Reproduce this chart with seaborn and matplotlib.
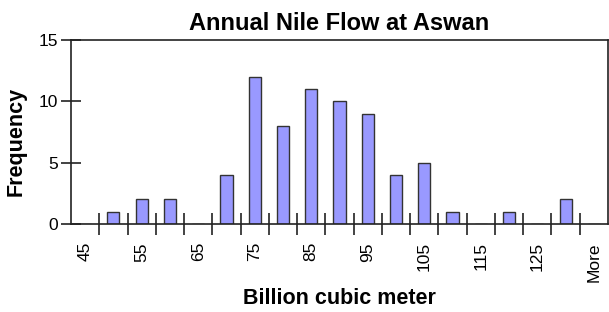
import numpy as np
import pandas as pd
import matplotlib
matplotlib.use("Agg")
import matplotlib.pyplot as plt
from matplotlib.ticker import FixedLocator
import seaborn as sns

# histogram of annual Nile flow (bins in billion cubic meter)
bins = ["45", "50", "55", "60", "65", "70", "75", "80", "85", "90",
        "95", "100", "105", "110", "115", "120", "125", "130", "More"]
freq = [0, 1, 2, 2, 0, 4, 12, 8, 11, 10, 9, 4, 5, 1, 0, 1, 0, 2, 0]
y_ticks = [0, 5, 10, 15]

df = pd.DataFrame({"bin": bins, "freq": freq})

sns.set_style("white", rc={
    "xtick.bottom": True, "ytick.left": True,
    "text.color": "black", "axes.labelcolor": "black",
    "xtick.color": "#222222", "ytick.color": "#222222",
})
plt.rcParams["font.family"] = ["Liberation Sans", "DejaVu Sans"]

fig = plt.figure(figsize=(6.09, 3.12), dpi=100)
ax = fig.add_axes([71 / 609, 1 - 224 / 312, 537 / 609, 184 / 312])

sns.barplot(data=df, x="bin", y="freq", color="#9999ff", saturation=1,
            width=0.43, edgecolor="#333333", linewidth=1.0, ax=ax)

n = len(bins)
ax.set_xlim(-0.5, n - 0.5)
ax.set_ylim(0, 15)
ax.set_yticks(y_ticks)

# labels on every other bin, tick marks at bin boundaries
pos = np.arange(n)
ax.set_xticks(pos[::2])
ax.set_xticklabels(bins[::2], rotation=90, fontsize=12.5)
ax.xaxis.set_minor_locator(FixedLocator(np.arange(0.5, n - 1, 1.0)))
ax.tick_params(axis="x", which="major", bottom=True, length=0, pad=13,
               labelcolor="black")
ax.tick_params(axis="x", which="minor", bottom=True, direction="inout",
               length=15.5, width=1.2, color="#222222")
ax.tick_params(axis="y", left=True, direction="inout", length=14.5, width=1.2,
               color="#222222", labelsize=12.5, pad=2, labelcolor="black")

for s in ax.spines.values():
    s.set_visible(True)
    s.set_color("#222222")
    s.set_linewidth(1.2)

ax.set_title("Annual Nile Flow at Aswan", fontsize=17, fontweight="bold",
             pad=7.5, color="black")
ax.set_xlabel("Billion cubic meter", fontsize=15.5, fontweight="bold")
ax.set_ylabel("Frequency", fontsize=15.5, fontweight="bold")
ax.xaxis.set_label_coords(0.5, -0.35)
ax.yaxis.set_label_coords(-0.082, 0.45)

fig.savefig("out.png", dpi=100)
